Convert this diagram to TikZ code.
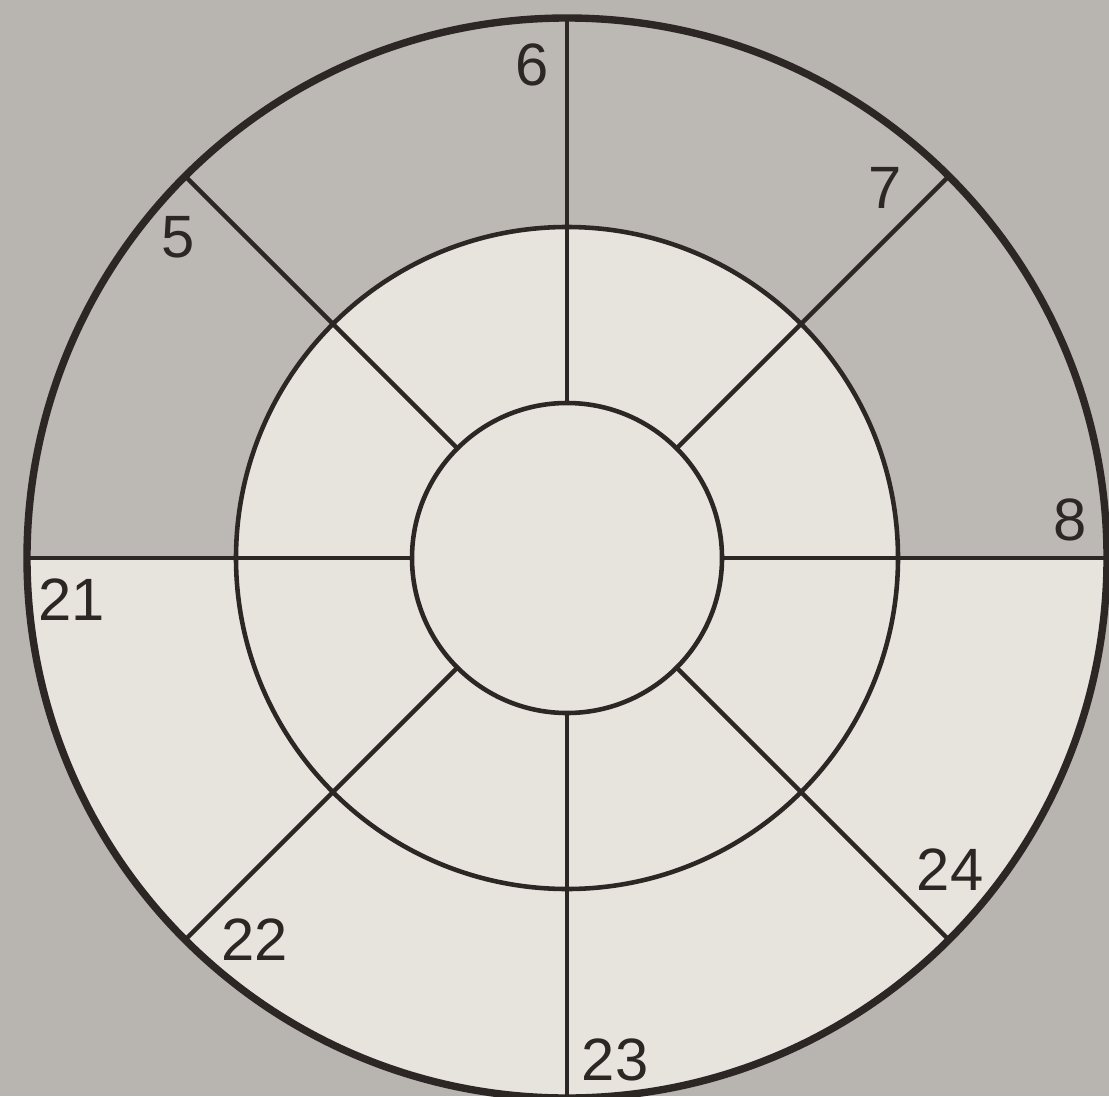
\documentclass[tikz,border=0pt]{standalone}
\usepackage{fontspec}
\setmainfont{Liberation Sans}
\usetikzlibrary{positioning}
\definecolor{paperbg}{RGB}{184,180,176}
\definecolor{ringdark}{RGB}{188,184,180}
\definecolor{ringlight}{RGB}{231,227,221}
\definecolor{inkline}{RGB}{44,38,36}
\tikzset{
  segline/.style={draw=inkline, line width=1.3pt},
  rimline/.style={draw=inkline, line width=2.1pt},
  seglabel/.style={anchor=center, inner sep=0pt, text=inkline, font=\fontsize{17}{17}\selectfont},
}
\begin{document}
\begin{tikzpicture}
    \useasboundingbox (0,0) rectangle (11.09,10.96);
    \fill[paperbg] (0,0) rectangle (11.09,10.96);
    \begin{scope}[shift={(5.67,5.38)}]
        \coordinate (C) at (0,0);
        % light disc, shaded upper outer ring
        \fill[ringlight] (C) circle (5.40);
        \fill[ringdark] (0:5.40) arc (0:180:5.40) -- (180:3.31) arc (180:0:3.31) -- cycle;
        % spokes
        \foreach \a in {0,45,...,315}{
            \coordinate (S\a) at (\a:1.55);
            \coordinate (E\a) at (\a:5.40);
            \draw[segline] (S\a) -- (E\a);
        }
        \draw[segline, fill=ringlight] (C) circle (1.55);
        \draw[segline] (C) circle (3.31);
        \draw[rimline] (C) circle (5.40);
    \end{scope}
    \node[seglabel] (L5) at (1.78,8.59) {5};
    \node[seglabel] (L6) at (5.32,10.31) {6};
    \node[seglabel] (L7) at (8.85,9.08) {7};
    \node[seglabel] (L8) at (10.70,5.76) {8};
    \node[seglabel] (L21) at (0.72,4.96) {21};
    \node[seglabel] (L22) at (2.55,1.56) {22};
    \node[seglabel] (L23) at (6.15,0.36) {23};
    \node[seglabel] (L24) at (9.50,2.26) {24};
\end{tikzpicture}
\end{document}
